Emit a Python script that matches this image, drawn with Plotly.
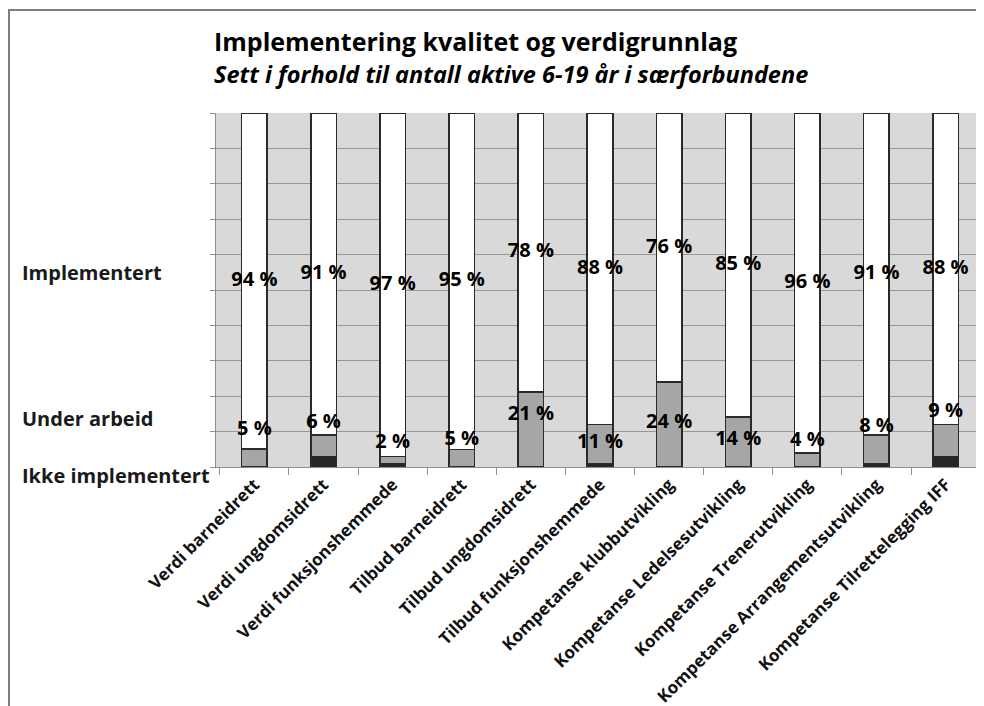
import plotly.graph_objects as go

categories = [
    "Verdi barneidrett", "Verdi ungdomsidrett", "Verdi funksjonshemmede",
    "Tilbud barneidrett", "Tilbud ungdomsidrett", "Tilbud funksjonshemmede",
    "Kompetanse klubbutvikling", "Kompetanse Ledelsesutvikling",
    "Kompetanse Trenerutvikling", "Kompetanse Arrangementsutvikling",
    "Kompetanse Tilrettelegging IFF",
]
ikke_implementert = [0, 3, 1, 0, 0, 1, 0, 0, 0, 1, 3]
under_arbeid = [5, 6, 2, 5, 21, 11, 24, 14, 4, 8, 9]
implementert = [94, 91, 97, 95, 78, 88, 76, 85, 96, 91, 88]

# label placement (percent height) for "Under arbeid" labels, as moved in the original
under_label_pos = [10.5, 12.4, 6.8, 7.6, 14.7, 6.8, 12.4, 7.6, 7.3, 11.3, 15.5]

FONT = "'Open Sans', sans-serif"
OFF = 8  # page body margin
L, T, B = 216, 113, 467          # screen pixels
W, H = 984 - OFF, 706 - OFF
PW, PH = 984 - L, B - T


def px(xs):
    return (xs - L) / PW


def py(ys):
    return (B - ys) / PH


fig = go.Figure()
line = dict(color="#2a2a2a", width=1.6)
fig.add_bar(x=categories, y=ikke_implementert, name="Ikke implementert",
            marker=dict(color="#262626", line=line))
fig.add_bar(x=categories, y=under_arbeid, name="Under arbeid",
            marker=dict(color="#a6a6a6", line=line))
fig.add_bar(x=categories, y=implementert, name="Implementert",
            marker=dict(color="#ffffff", line=line))

# labels
totals = [a + b + c for a, b, c in zip(ikke_implementert, under_arbeid, implementert)]
impl_mid = [100 * (a + b + c / 2) / t for a, b, c, t in
            zip(ikke_implementert, under_arbeid, implementert, totals)]
lab_font = dict(family=FONT, size=20, color="#000000", weight="bold")
fig.add_scatter(x=categories, y=impl_mid, mode="text",
                text=[f"{v} %" for v in implementert], textfont=lab_font,
                textposition="middle center", showlegend=False, hoverinfo="skip")
fig.add_scatter(x=categories, y=under_label_pos, mode="text",
                text=[f"{v} %" for v in under_arbeid], textfont=lab_font,
                textposition="middle center", showlegend=False, hoverinfo="skip")

fig.update_layout(
    barmode="stack", barnorm="percent", bargap=0.63,
    width=W, height=H,
    margin=dict(l=L - OFF, r=0, t=T - OFF, b=H - (B - OFF)),
    paper_bgcolor="#ffffff", plot_bgcolor="#d9d9d9",
    showlegend=False,
    font=dict(family=FONT, color="#000000"),
)
fig.update_yaxes(range=[0, 100], dtick=10, showticklabels=False,
                 showgrid=True, gridcolor="#979797", gridwidth=1,
                 ticks="outside", ticklen=5, tickcolor="#8f8f8f",
                 showline=True, linecolor="#8f8f8f", zeroline=False)
fig.update_xaxes(tickangle=-45, tickson="boundaries", ticks="outside",
                 ticklen=7, tickcolor="#8f8f8f", showline=True,
                 linecolor="#8f8f8f", showgrid=False,
                 tickfont=dict(family=FONT, size=17, color="#111111", weight="bold"))

# side labels
for text, ys in [("Implementert", 272), ("Under arbeid", 418), ("Ikke implementert", 475)]:
    fig.add_annotation(text=f"<b>{text}</b>", xref="paper", yref="paper",
                       x=px(20), y=py(ys), xanchor="left", yanchor="middle",
                       showarrow=False, font=dict(family=FONT, size=20, color="#1a1a1a"))

fig.add_annotation(text="<b>Implementering kvalitet og verdigrunnlag</b>",
                   xref="paper", yref="paper", x=px(212), y=py(41),
                   xanchor="left", yanchor="middle", showarrow=False,
                   font=dict(family=FONT, size=25, color="#000000"))
fig.add_annotation(text="<b><i>Sett i forhold til antall aktive 6-19 år i særforbundene</i></b>",
                   xref="paper", yref="paper", x=px(212), y=py(74),
                   xanchor="left", yanchor="middle", showarrow=False,
                   font=dict(family=FONT, size=23.5, color="#000000"))

# outer chart frame
fig.add_shape(type="rect", xref="paper", yref="paper",
              x0=px(9), x1=px(1100), y0=py(900), y1=py(10),
              line=dict(color="#7f7f7f", width=2), layer="above")

fig.write_html("out.html")
